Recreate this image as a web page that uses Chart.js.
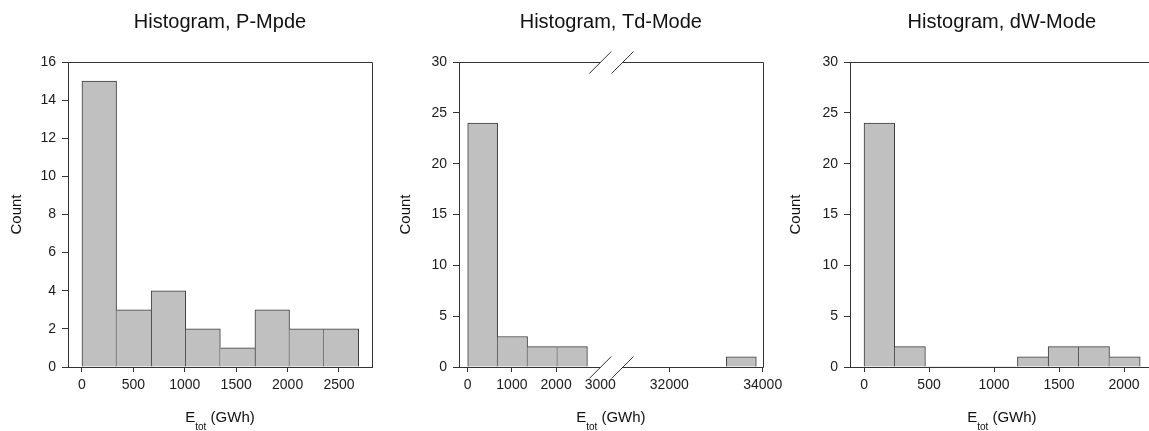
<!DOCTYPE html>
<html>
<head>
<meta charset="utf-8">
<script src="https://cdn.jsdelivr.net/npm/chart.js@4/dist/chart.umd.min.js"></script>
<style>
  html, body { margin: 0; padding: 0; background: #fff; overflow: hidden; width: 1149px; height: 431px; }
  .panel { position: absolute; top: 0; height: 431px; }
</style>
</head>
<body>
<div class="panel" style="left:0;width:380px"><canvas id="chartP"></canvas></div>
<div class="panel" style="left:380px;width:415px"><canvas id="chartTd"></canvas></div>
<div class="panel" style="left:770px;width:400px"><canvas id="chartDw"></canvas></div>
<script>
// P-Mpde histogram
const pEdges = [0, 336, 673, 1009, 1346, 1682, 2019, 2355, 2692];
const pCounts = [15, 3, 4, 2, 1, 3, 2, 2];
const pTicksX = [0, 500, 1000, 1500, 2000, 2500];
const pTicksY = [0, 2, 4, 6, 8, 10, 12, 14, 16];

// Td-Mode histogram (x axis broken between 3000 and 31000)
const tdLow = [0, 677, 1354, 2031, 33200];
const tdHigh = [677, 1354, 2031, 2708, 33885];
const tdCounts = [24, 3, 2, 2, 1];
const tdTicksX = [0, 1000, 2000, 3000, 32000, 34000];
const tdTicksY = [0, 5, 10, 15, 20, 25, 30];

// dW-Mode histogram
const dwEdges = [0, 236, 472, 708, 944, 1180, 1416, 1652, 1888, 2124];
const dwCounts = [24, 2, 0, 0, 0, 1, 2, 2, 1];
const dwTicksX = [0, 500, 1000, 1500, 2000];
const dwTicksY = [0, 5, 10, 15, 20, 25, 30];

const FONT = '"Liberation Sans", Arial, Helvetica, sans-serif';
const INK = '#333';

Chart.defaults.font.family = FONT;
Chart.defaults.color = '#1a1a1a';

// axis break for the Td panel: values above the break are shifted down
const tdBreak = [3000, 31000];
const tdGap = 504;
const tdStretch = 1.0566;
const tdMap = v => v <= tdBreak[0] ? v : tdBreak[0] + tdGap + (v - tdBreak[1]) * tdStretch;
const noMap = v => v;

const decor = {
  id: 'decor',
  afterDraw(chart, args, opts) {
    const {ctx, chartArea: a} = chart;
    const xs = chart.scales.x;
    const cx = (a.left + a.right) / 2;
    ctx.save();

    // main title
    ctx.fillStyle = '#111';
    ctx.font = '20px ' + FONT;
    ctx.textAlign = 'center';
    ctx.textBaseline = 'middle';
    ctx.fillText(opts.title, cx, 22.5);

    // x axis title with subscript
    const big = '15px ' + FONT, small = '10px ' + FONT;
    ctx.textAlign = 'left';
    ctx.textBaseline = 'alphabetic';
    ctx.font = big;
    const wE = ctx.measureText('E').width;
    const wRest = ctx.measureText(' (GWh)').width;
    ctx.font = small;
    const wSub = ctx.measureText('tot').width;
    let x = cx - (wE + wSub + wRest) / 2;
    ctx.font = big;
    ctx.fillText('E', x, 421.7);
    ctx.font = small;
    ctx.fillText('tot', x + wE, 429.5);
    ctx.font = big;
    ctx.fillText(' (GWh)', x + wE + wSub, 421.7);

    // frame
    ctx.strokeStyle = INK;
    ctx.lineWidth = 1;
    const top = Math.round(a.top) + 0.5;
    const bot = Math.round(a.bottom) + 0.5;
    const right = Math.round(a.right) + 0.5;
    ctx.beginPath();
    if (opts.broken) {
      const b1 = xs.getPixelForValue(tdMap(tdBreak[0]));
      const b2 = xs.getPixelForValue(tdMap(tdBreak[1]));
      [top, bot].forEach(y => {
        ctx.moveTo(a.left, y); ctx.lineTo(b1, y);
        ctx.moveTo(b2, y); ctx.lineTo(right, y);
        [b1, b2].forEach(b => {
          ctx.moveTo(b - 11, y + 11); ctx.lineTo(b + 11, y - 11);
        });
      });
    } else {
      ctx.moveTo(a.left, top); ctx.lineTo(right, top);
    }
    ctx.moveTo(right, top); ctx.lineTo(right, bot);
    ctx.stroke();
    ctx.restore();
  }
};

function makeHistogram(id, cfg) {
  const counts = cfg.counts;
  const points = counts.map((c, i) => ({x: cfg.map((cfg.low[i] + cfg.high[i]) / 2), y: c}));
  const hidden = cfg.hideTick === undefined ? null : cfg.map(cfg.hideTick);

  return new Chart(document.getElementById(id), {
    type: 'bar',
    data: {
      datasets: [{
        data: points,
        backgroundColor: '#c0c0c0',
        borderColor: '#3c3c3c',
        borderSkipped: false,
        // shared edges are drawn once, by the taller bar
        borderWidth: c => {
          const i = c.dataIndex;
          if (!counts[i]) return 0;
          const prev = i > 0 && cfg.low[i] === cfg.high[i - 1] ? counts[i - 1] : 0;
          const next = i < counts.length - 1 && cfg.high[i] === cfg.low[i + 1] ? counts[i + 1] : 0;
          return {top: 1, bottom: 0, left: prev >= counts[i] ? 0 : 1, right: next > counts[i] ? 0 : 1};
        },
        barPercentage: 1,
        categoryPercentage: 1
      }]
    },
    options: {
      responsive: true,
      maintainAspectRatio: false,
      animation: false,
      layout: { padding: { top: 62, left: 0, right: cfg.padRight, bottom: 0 } },
      plugins: {
        legend: { display: false },
        tooltip: { enabled: false },
        decor: { title: cfg.title, broken: !!cfg.broken }
      },
      scales: {
        x: {
          type: 'linear',
          offset: false,
          min: cfg.xMin,
          max: cfg.xMax,
          afterBuildTicks: s => { s.ticks = cfg.ticksX.map(v => ({value: cfg.map(v)})); },
          afterFit: s => { s.height = 64; },
          ticks: {
            font: { size: 14 },
            padding: 5,
            maxRotation: 0,
            autoSkip: false,
            callback: (v, i) => cfg.ticksX[i]
          },
          grid: {
            offset: false,
            drawOnChartArea: false,
            tickLength: 5,
            color: c => (c.tick && c.tick.value === hidden) ? 'rgba(0,0,0,0)' : INK
          },
          border: { display: !cfg.broken, color: INK }
        },
        y: {
          min: 0,
          max: cfg.ticksY[cfg.ticksY.length - 1],
          afterBuildTicks: s => { s.ticks = cfg.ticksY.map(v => ({value: v})); },
          afterFit: s => { s.width = cfg.yWidth; },
          ticks: { font: { size: 14 }, padding: 6 },
          grid: { offset: false, drawOnChartArea: false, tickLength: 6, color: INK },
          border: { color: INK },
          title: { display: true, text: 'Count', font: { size: 15 }, color: '#111', padding: { top: cfg.yTitlePad, bottom: 0 } }
        }
      }
    },
    plugins: [decor]
  });
}

makeHistogram('chartP', {
  title: 'Histogram, P-Mpde',
  low: pEdges.slice(0, -1), high: pEdges.slice(1), counts: pCounts,
  ticksX: pTicksX, ticksY: pTicksY, map: noMap,
  xMin: -136, xMax: 2821,
  yWidth: 68, yTitlePad: 7.7, padRight: 8
});

makeHistogram('chartTd', {
  title: 'Histogram, Td-Mode',
  low: tdLow, high: tdHigh, counts: tdCounts,
  ticksX: tdTicksX, ticksY: tdTicksY, map: tdMap,
  xMin: -197, xMax: tdMap(34000),
  broken: true, hideTick: 3000,
  yWidth: 79, yTitlePad: 16.8, padRight: 32.3
});

makeHistogram('chartDw', {
  title: 'Histogram, dW-Mode',
  low: dwEdges.slice(0, -1), high: dwEdges.slice(1), counts: dwCounts,
  ticksX: dwTicksX, ticksY: dwTicksY, map: noMap,
  xMin: -108, xMax: 2228,
  yWidth: 80, yTitlePad: 16.8, padRight: 16.3
});
</script>
</body>
</html>
